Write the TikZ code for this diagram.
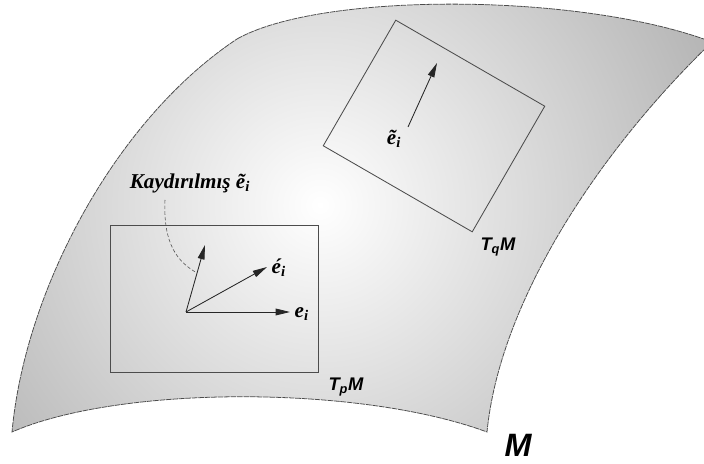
\documentclass[tikz,border=0pt]{standalone}
\usepackage{fontspec}
\setmainfont{Liberation Serif}
\newfontfamily\lblserif{Liberation Serif}
\newfontfamily\lblsans{Liberation Sans}
\usetikzlibrary{arrows.meta, calc}
\tikzset{
    surfedge/.style={draw=black!70, line width=0.55pt, dash pattern=on 4pt off 0.6pt},
    tplane/.style={draw=black!70, line width=0.6pt, inner sep=0pt, minimum width=5.2cm, minimum height=3.675cm},
    vec/.style={-{Triangle[length=3.6mm, width=1.7mm]}, line width=0.6pt, black!85},
    veclbl/.style={font=\lblserif\fontsize{15}{18}\selectfont\bfseries\itshape, inner sep=1pt},
    planelbl/.style={font=\lblsans\fontsize{13}{15}\selectfont\bfseries\itshape, inner sep=0pt},
    transport/.style={draw=black!70, line width=0.4pt, dash pattern=on 2.5pt off 1.5pt},
}
\newcommand{\manifoldpath}{(237,39) .. controls (320,-8) and (580,-8) .. (712,42) .. controls (600,150) and (500,300) .. (487,432) .. controls (360,385) and (120,385) .. (12,432) .. controls (25,290) and (115,120) .. cycle}

\begin{document}
\begin{tikzpicture}[x=0.025cm, y=-0.025cm]
    \useasboundingbox (0,0) rectangle (704,464);
    % manifold M
    \begin{scope}
        \clip \manifoldpath;
        \shade[inner color=white, outer color=black!55] (320,205) circle (800);
    \end{scope}
    \draw[surfedge] \manifoldpath;
    % tangent planes
    \node[tplane] (tp) at (214,299) {};
    \node[tplane, minimum width=4.3cm, minimum height=3.625cm, rotate=-30] (tq) at (434,126) {};
    \node[planelbl] (tplbl) at (346,387) {T\textsubscript{p}M};
    \node[planelbl] (tqlbl) at (498,247) {T\textsubscript{q}M};
    \node[font=\lblsans\fontsize{23}{26}\selectfont\bfseries\itshape, inner sep=0pt] (mlbl) at (518,445) {M};
    % vectors at p
    \coordinate (o)   at (186,312);
    \coordinate (ei)  at (290,312);
    \coordinate (eip) at (267,267);
    \coordinate (eit) at (205,245);
    \draw[vec] (o) -- (ei);
    \draw[vec] (o) -- (eip);
    \draw[vec] (o) -- (eit);
    \node[veclbl, anchor=west] (eilbl)  at (293,314) {e\textsubscript{i}};
    \node[veclbl, anchor=west] (eiplbl) at (270,268) {é\textsubscript{i}};
    % vector at q
    \coordinate (qs) at (408,127);
    \coordinate (qe) at (437,63);
    \draw[vec] (qs) -- (qe);
    \node[veclbl] (qlbl) at (394,139) {ẽ\textsubscript{i}};
    % transported vector
    \node[veclbl] (kay) at (190,183) {Kaydırılmış ẽ\textsubscript{i}};
    \coordinate (trs) at (165,200);
    \coordinate (tre) at (197,273);
    \draw[transport] (trs) .. controls (163,245) and (178,262) .. (tre);
\end{tikzpicture}
\end{document}
